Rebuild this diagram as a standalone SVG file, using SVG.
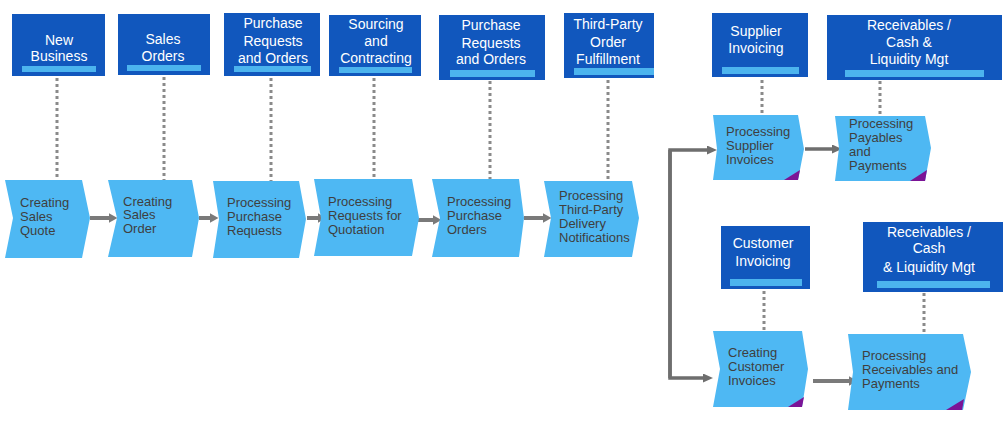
<svg xmlns="http://www.w3.org/2000/svg" width="1008" height="425" viewBox="0 0 1008 425">
  <style>
    .org { fill: #1157BD; }
    .bar { fill: #4CB4EE; }
    .org-text { font-family: "Liberation Sans", Arial, sans-serif; font-size: 14px; fill: #FFFFFF; text-anchor: middle; }
    .step { fill: #4EB8F3; }
    .step-text { font-family: "Liberation Sans", Arial, sans-serif; font-size: 13px; fill: #3F3F3F; }
    .corner { fill: #7B1496; }
    .link { stroke: #8A8A8A; stroke-width: 3; stroke-dasharray: 3 3; fill: none; }
    .flow { stroke: #7A7A7A; stroke-width: 4; fill: none; }
    .branch { stroke: #6E6E6E; stroke-width: 3.5; fill: none; }
  </style>
  <defs>
    <marker id="head" viewBox="0 0 9 10" refX="0.5" refY="5" markerWidth="9" markerHeight="10" markerUnits="userSpaceOnUse" orient="auto">
      <path d="M0,0 L9,5 L0,10 z" fill="#7A7A7A"/>
    </marker>
    <marker id="head-dark" viewBox="0 0 10 9" refX="0.5" refY="4.5" markerWidth="10" markerHeight="9" markerUnits="userSpaceOnUse" orient="auto">
      <path d="M0,0 L10,4.5 L0,9 z" fill="#6E6E6E"/>
    </marker>
  </defs>

  <!-- dotted links between organisational units and process steps -->
  <g id="links">
    <line class="link" x1="57" y1="78" x2="57" y2="180"/>
    <line class="link" x1="164" y1="77" x2="164" y2="180"/>
    <line class="link" x1="271" y1="78" x2="271" y2="181"/>
    <line class="link" x1="374" y1="78" x2="374" y2="179"/>
    <line class="link" x1="490" y1="81" x2="490" y2="179"/>
    <line class="link" x1="608" y1="80" x2="608" y2="181"/>
    <line class="link" x1="762" y1="80" x2="762" y2="115"/>
    <line class="link" x1="880" y1="81" x2="880" y2="116"/>
    <line class="link" x1="764" y1="291" x2="764" y2="331"/>
    <line class="link" x1="924" y1="293" x2="924" y2="334"/>
  </g>

  <!-- process flow connectors -->
  <g id="connectors">
    <line class="flow" x1="90" y1="218" x2="109" y2="218" marker-end="url(#head)"/>
    <line class="flow" x1="199" y1="218" x2="210" y2="218" marker-end="url(#head)"/>
    <line class="flow" x1="307" y1="218" x2="318" y2="218" marker-end="url(#head)"/>
    <line class="flow" x1="414" y1="220" x2="433" y2="220" marker-end="url(#head)"/>
    <line class="flow" x1="524" y1="218" x2="543" y2="218" marker-end="url(#head)"/>
    <path class="branch" d="M670,378 L670,150 L707.5,150" marker-end="url(#head-dark)"/>
    <path class="branch" d="M670,150 L670,378 L703.5,378" marker-end="url(#head-dark)"/>
    <line class="branch" x1="805" y1="149" x2="832.5" y2="149" marker-end="url(#head-dark)"/>
    <line class="flow" x1="813" y1="381" x2="849" y2="381" marker-end="url(#head)"/>
  </g>

  <!-- organisational units -->
  <g id="org-new-business">
    <rect class="org" x="12" y="14" width="93" height="62"/>
    <rect class="bar" x="22" y="66" width="74" height="6"/>
    <text class="org-text" x="59" y="45">New</text>
    <text class="org-text" x="59" y="61">Business</text>
  </g>
  <g id="org-sales-orders">
    <rect class="org" x="118" y="14" width="92" height="61"/>
    <rect class="bar" x="127" y="65" width="74" height="6"/>
    <text class="org-text" x="163" y="44">Sales</text>
    <text class="org-text" x="163" y="61">Orders</text>
  </g>
  <g id="org-purchase-1">
    <rect class="org" x="224" y="13" width="96" height="63"/>
    <rect class="bar" x="234" y="66" width="77" height="6"/>
    <text class="org-text" x="273" y="28">Purchase</text>
    <text class="org-text" x="273" y="46">Requests</text>
    <text class="org-text" x="273" y="63">and Orders</text>
  </g>
  <g id="org-sourcing">
    <rect class="org" x="329" y="15" width="92" height="61"/>
    <rect class="bar" x="339" y="67" width="73" height="6"/>
    <text class="org-text" x="376" y="29">Sourcing</text>
    <text class="org-text" x="376" y="46">and</text>
    <text class="org-text" x="376" y="63">Contracting</text>
  </g>
  <g id="org-purchase-2">
    <rect class="org" x="439" y="15" width="106" height="65"/>
    <rect class="bar" x="450" y="70" width="85" height="7"/>
    <text class="org-text" x="491" y="30">Purchase</text>
    <text class="org-text" x="491" y="48">Requests</text>
    <text class="org-text" x="491" y="64">and Orders</text>
  </g>
  <g id="org-third-party">
    <rect class="org" x="564" y="13" width="90" height="65"/>
    <rect class="bar" x="574" y="68" width="80" height="7"/>
    <text class="org-text" x="608" y="29">Third-Party</text>
    <text class="org-text" x="608" y="47">Order</text>
    <text class="org-text" x="608" y="64">Fulfillment</text>
  </g>
  <g id="org-supplier-invoicing">
    <rect class="org" x="712" y="13" width="96" height="64"/>
    <rect class="bar" x="722" y="67" width="77" height="7"/>
    <text class="org-text" x="756" y="36">Supplier</text>
    <text class="org-text" x="756" y="53">Invoicing</text>
  </g>
  <g id="org-receivables-1">
    <rect class="org" x="827" y="15" width="175" height="65"/>
    <rect class="bar" x="845" y="70" width="139" height="7"/>
    <text class="org-text" x="909" y="30">Receivables /</text>
    <text class="org-text" x="909" y="47">Cash &amp;</text>
    <text class="org-text" x="909" y="64">Liquidity Mgt</text>
  </g>
  <g id="org-customer-invoicing">
    <rect class="org" x="721" y="226" width="89" height="63"/>
    <rect class="bar" x="730" y="279" width="72" height="7"/>
    <text class="org-text" x="763" y="248">Customer</text>
    <text class="org-text" x="763" y="266">Invoicing</text>
  </g>
  <g id="org-receivables-2">
    <rect class="org" x="863" y="222" width="140" height="70"/>
    <rect class="bar" x="877" y="281" width="113" height="7"/>
    <text class="org-text" x="929" y="237">Receivables /</text>
    <text class="org-text" x="929" y="253">Cash</text>
    <text class="org-text" x="929" y="272">&amp; Liquidity Mgt</text>
  </g>

  <!-- process steps -->
  <g id="step-creating-sales-quote">
    <polygon class="step" points="5,180 82,180 90,218 82,258 5,258 13,218"/>
    <text class="step-text" x="20" y="207">Creating</text>
    <text class="step-text" x="20" y="221">Sales</text>
    <text class="step-text" x="20" y="235">Quote</text>
  </g>
  <g id="step-creating-sales-order">
    <polygon class="step" points="108,180 192,180 199,218 192,257 108,257 117,218"/>
    <text class="step-text" x="123" y="206">Creating</text>
    <text class="step-text" x="123" y="219">Sales</text>
    <text class="step-text" x="123" y="233">Order</text>
  </g>
  <g id="step-processing-purchase-requests">
    <polygon class="step" points="213,181 299,181 306,219 299,258 213,258 219,219"/>
    <text class="step-text" x="227" y="207">Processing</text>
    <text class="step-text" x="227" y="221">Purchase</text>
    <text class="step-text" x="227" y="235">Requests</text>
  </g>
  <g id="step-processing-rfq">
    <polygon class="step" points="314,179 412,179 419,218 412,256 314,256 321,218"/>
    <text class="step-text" x="328" y="206">Processing</text>
    <text class="step-text" x="328" y="220">Requests for</text>
    <text class="step-text" x="328" y="234">Quotation</text>
  </g>
  <g id="step-processing-purchase-orders">
    <polygon class="step" points="432,179 519,179 524,218 519,257 432,257 440,218"/>
    <text class="step-text" x="447" y="206">Processing</text>
    <text class="step-text" x="447" y="220">Purchase</text>
    <text class="step-text" x="447" y="234">Orders</text>
  </g>
  <g id="step-third-party-delivery">
    <polygon class="step" points="544,181 632,181 639,218 632,257 544,257 551,218"/>
    <text class="step-text" x="559" y="200">Processing</text>
    <text class="step-text" x="559" y="214">Third-Party</text>
    <text class="step-text" x="559" y="228">Delivery</text>
    <text class="step-text" x="559" y="242">Notifications</text>
  </g>
  <g id="step-supplier-invoices">
    <polygon class="step" points="713,115 798,115 804,149 798,180 713,180 717,149"/>
    <polygon class="corner" points="784,180 798,180 800,170"/>
    <text class="step-text" x="726" y="136">Processing</text>
    <text class="step-text" x="726" y="150">Supplier</text>
    <text class="step-text" x="726" y="164">Invoices</text>
  </g>
  <g id="step-payables">
    <polygon class="step" points="835,116 925,116 931,148 925,181 835,181 839,148"/>
    <polygon class="corner" points="910,181 925,181 927,170"/>
    <text class="step-text" x="849" y="128">Processing</text>
    <text class="step-text" x="849" y="142">Payables</text>
    <text class="step-text" x="849" y="156">and</text>
    <text class="step-text" x="849" y="170">Payments</text>
  </g>
  <g id="step-customer-invoices">
    <polygon class="step" points="713,331 802,331 808,369 802,407 713,407 720,369"/>
    <polygon class="corner" points="788,407 802,407 804,397"/>
    <text class="step-text" x="728" y="357">Creating</text>
    <text class="step-text" x="728" y="371">Customer</text>
    <text class="step-text" x="728" y="385">Invoices</text>
  </g>
  <g id="step-receivables">
    <polygon class="step" points="848,334 963,334 971,372 963,410 848,410 853,372"/>
    <polygon class="corner" points="946,410 962,410 964,399"/>
    <text class="step-text" x="862" y="360">Processing</text>
    <text class="step-text" x="862" y="374">Receivables and</text>
    <text class="step-text" x="862" y="388">Payments</text>
  </g>
</svg>
